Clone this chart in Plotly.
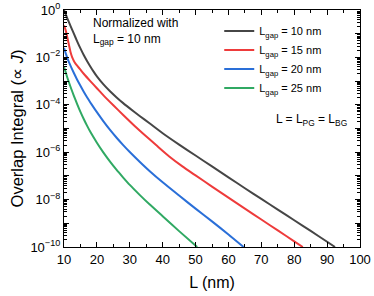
import plotly.graph_objects as go

# ---- data (y stored as -log10 of the overlap integral) ----
L_10 = [10, 11, 12, 13, 14, 15, 16, 17, 18, 19, 20, 22, 24, 26, 28, 30, 33, 36, 40,
        45, 50, 55, 60, 65, 70, 75, 80, 85, 90, 92.4]
E_10 = [0.0, 0.35, 0.68, 1.0, 1.32, 1.62, 1.9, 2.15, 2.38, 2.6, 2.8, 3.14, 3.43, 3.69, 3.93, 4.15, 4.47, 4.78, 5.2,
        5.68, 6.14, 6.6, 7.06, 7.52, 7.97, 8.42, 8.87, 9.32, 9.78, 10.0]

L_15 = [10, 10.5, 11, 11.5, 12, 12.5, 13, 13.5, 14, 15, 16, 18, 20, 22, 25, 28, 31, 34, 38,
        42, 46, 50, 55, 60, 65, 70, 75, 80, 82.6]
E_15 = [0.65, 0.85, 1.15, 1.47, 1.78, 2.0, 2.15, 2.26, 2.35, 2.52, 2.69, 3.0, 3.3, 3.6, 4.02, 4.43, 4.83, 5.21, 5.7,
        6.18, 6.6, 6.98, 7.45, 7.92, 8.38, 8.84, 9.3, 9.76, 10.0]

L_20 = [10, 10.5, 11, 11.5, 12, 13, 14, 15, 16, 17, 18, 19, 20, 22, 24, 26, 28, 30, 33, 36,
        40, 45, 50, 55, 60, 64.6]
E_20 = [1.6, 1.82, 2.02, 2.2, 2.36, 2.66, 2.94, 3.2, 3.45, 3.68, 3.9, 4.11, 4.31, 4.7, 5.06, 5.39, 5.7, 5.99, 6.4, 6.79,
        7.27, 7.83, 8.38, 8.92, 9.47, 10.0]

L_25 = [10, 10.5, 11, 11.5, 12, 13, 14, 15, 16, 17, 18, 20, 22, 24, 26, 28, 30, 33, 36,
        40, 45, 50.5]
E_25 = [2.4, 2.62, 2.85, 3.05, 3.25, 3.62, 3.97, 4.3, 4.6, 4.88, 5.14, 5.6, 6.02, 6.4, 6.75, 7.07, 7.38, 7.8, 8.2,
        8.7, 9.33, 10.0]

series_names = ["L<sub>gap</sub> = 10 nm", "L<sub>gap</sub> = 15 nm",
                "L<sub>gap</sub> = 20 nm", "L<sub>gap</sub> = 25 nm"]
series_L = [L_10, L_15, L_20, L_25]
series_E = [E_10, E_15, E_20, E_25]
colors = ["#464646", "#ee3b3b", "#2a6fd8", "#30a963"]

y_major_exp = list(range(0, -11, -1))
y_labels = ["10<sup>0</sup>" if e == 0 else ("10<sup>\u2212%d</sup>" % -e if e % 2 == 0 else "")
            for e in y_major_exp]
y_minor = [k * 10.0 ** e for e in range(-10, 0) for k in range(2, 10)]

FONT = "Liberation Sans, Arial, Helvetica, sans-serif"

fig = go.Figure()
for name, Ls, Es, c in zip(series_names, series_L, series_E, colors):
    fig.add_trace(go.Scatter(
        x=Ls, y=[10.0 ** (-e) for e in Es], mode="lines", name=name,
        line=dict(color=c, width=2, shape="spline", smoothing=0.6),
    ))

PL, PR, PT, PB = 63.5, 360, 10, 247.5
fig.update_layout(
    width=374, height=296,
    margin=dict(l=PL, r=374 - PR, t=PT, b=296 - PB, autoexpand=False),
    paper_bgcolor="white", plot_bgcolor="white",
    font=dict(family=FONT, size=12, color="black"),
    showlegend=True,
    legend=dict(x=(219 - PL) / (PR - PL), y=1 - (16.5 - PT) / (PB - PT), xanchor="left", yanchor="top",
                bgcolor="rgba(0,0,0,0)", borderwidth=0,
                font=dict(family=FONT, size=11, color="black"),
                tracegroupgap=0, itemwidth=30),
)

fig.update_xaxes(
    range=[10, 100], dtick=10, tick0=10, automargin=False,
    showline=True, linecolor="black", linewidth=1.2, mirror="ticks",
    ticks="inside", ticklen=5, tickwidth=1, tickcolor="black",
    minor=dict(dtick=5, tick0=10, ticks="inside", ticklen=3, tickcolor="black"),
    showgrid=False, zeroline=False,
    tickfont=dict(family=FONT, size=13),
    title=dict(text="L (nm)", font=dict(family=FONT, size=16), standoff=11),
)
fig.update_yaxes(
    type="log", range=[-10, 0], automargin=False,
    tickvals=[10.0 ** e for e in y_major_exp], ticktext=y_labels,
    showline=True, linecolor="black", linewidth=1.2, mirror="ticks",
    ticks="inside", ticklen=5, tickwidth=1, tickcolor="black",
    minor=dict(tickvals=y_minor, ticks="inside", ticklen=2.5, tickcolor="black"),
    showgrid=False, zeroline=False,
    tickfont=dict(family=FONT, size=13),
    title=dict(text="Overlap Integral (\u221d <i>J</i>)", font=dict(family=FONT, size=16.5), standoff=2),
)

fig.add_annotation(
    xref="paper", yref="paper", x=(91 - PL) / (PR - PL), y=1 - (14 - PT) / (PB - PT),
    xanchor="left", yanchor="top", align="left", showarrow=False,
    text="Normalized with<br>L<sub>gap</sub> = 10 nm",
    font=dict(family=FONT, size=12, color="black"),
)
fig.add_annotation(
    xref="paper", yref="paper", x=(349 - PL) / (PR - PL), y=1 - (120 - PT) / (PB - PT),
    xanchor="right", yanchor="middle", showarrow=False,
    text="L = L<sub>PG</sub> = L<sub>BG</sub>",
    font=dict(family=FONT, size=12, color="black"),
)

fig.write_html("out.html", config={"displayModeBar": False},
               post_script="document.body.style.margin='0px';")
